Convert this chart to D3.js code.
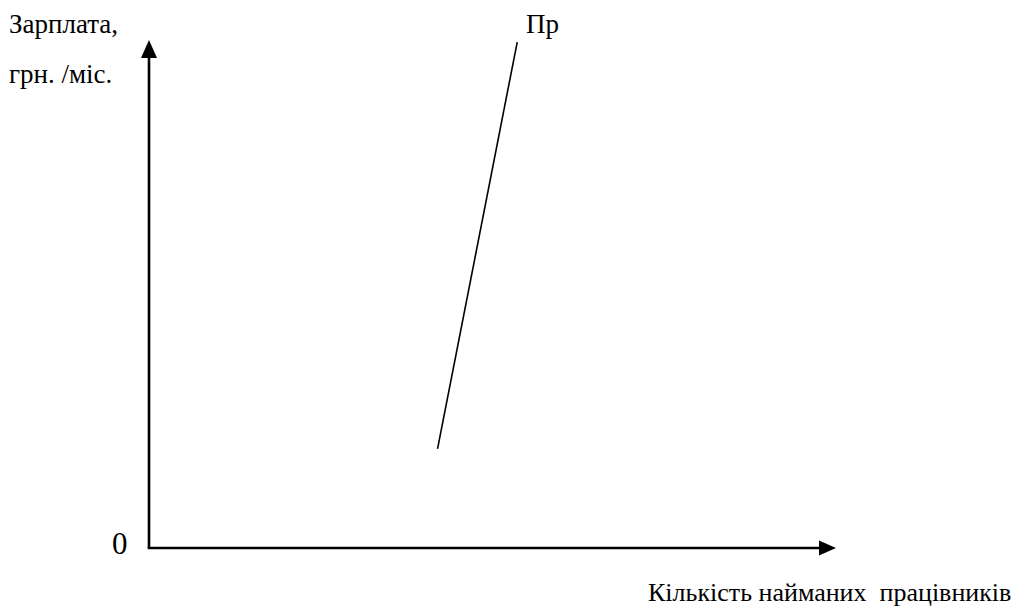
<!DOCTYPE html>
<html><head><meta charset="utf-8">
<script src="https://cdn.jsdelivr.net/npm/d3@7"></script>
<style>html,body{margin:0;padding:0;background:#fff;}svg{display:block;}
text{font-family:"Liberation Serif", "DejaVu Serif", serif;}</style>
</head><body>
<svg id="c" width="1022" height="608"></svg>
<script>
// Data
const xDomain = [0, 100];
const yDomain = [0, 100];
const supplyX = [42, 53.6];
const supplyY = [19.5, 99.6];
const supplyLabel = "Пр";
const yLabelLines = ["Зарплата,", "грн. /міс."];
const xLabel = "Кількість найманих\u00a0\u00a0працівників";
const originLabel = "0";

const svg = d3.select("#c");
const x = d3.scaleLinear().domain(xDomain).range([149, 836]);
const y = d3.scaleLinear().domain(yDomain).range([548, 40]);

// axes lines
svg.append("line").attr("x1", x(0)).attr("y1", y(0)).attr("x2", x(0)).attr("y2", y(100) + 17)
  .attr("stroke", "#000").attr("stroke-width", 2.6);
svg.append("line").attr("x1", x(0) - 1.3).attr("y1", y(0)).attr("x2", x(100) - 15).attr("y2", y(0))
  .attr("stroke", "#000").attr("stroke-width", 2.6);
// arrowheads
svg.append("path").attr("d", `M${x(0)},${y(100)} L${x(0)-8},${y(100)+18} L${x(0)+8},${y(100)+18} Z`).attr("fill", "#000");
svg.append("path").attr("d", `M${x(100)},${y(0)} L${x(100)-17},${y(0)-7.5} L${x(100)-17},${y(0)+7.5} Z`).attr("fill", "#000");

// supply line
const pts = supplyX.map((v, i) => [v, supplyY[i]]);
svg.append("path").datum(pts)
  .attr("d", d3.line().x(d => x(d[0])).y(d => y(d[1])))
  .attr("fill", "none").attr("stroke", "#000").attr("stroke-width", 1.6);

// texts
svg.append("text").attr("x", 526).attr("y", 33).style("font-size", "27px").text(supplyLabel);
svg.selectAll("text.yl").data(yLabelLines).enter().append("text").attr("class", "yl")
  .attr("x", 9).attr("y", (d, i) => 33 + i * 50).style("font-size", "27px").text(d => d);
svg.append("text").attr("x", 112).attr("y", 554).style("font-size", "31px").text(originLabel);
svg.append("text").attr("x", 648).attr("y", 601).style("font-size", "26px").text(xLabel);
</script>
</body></html>
